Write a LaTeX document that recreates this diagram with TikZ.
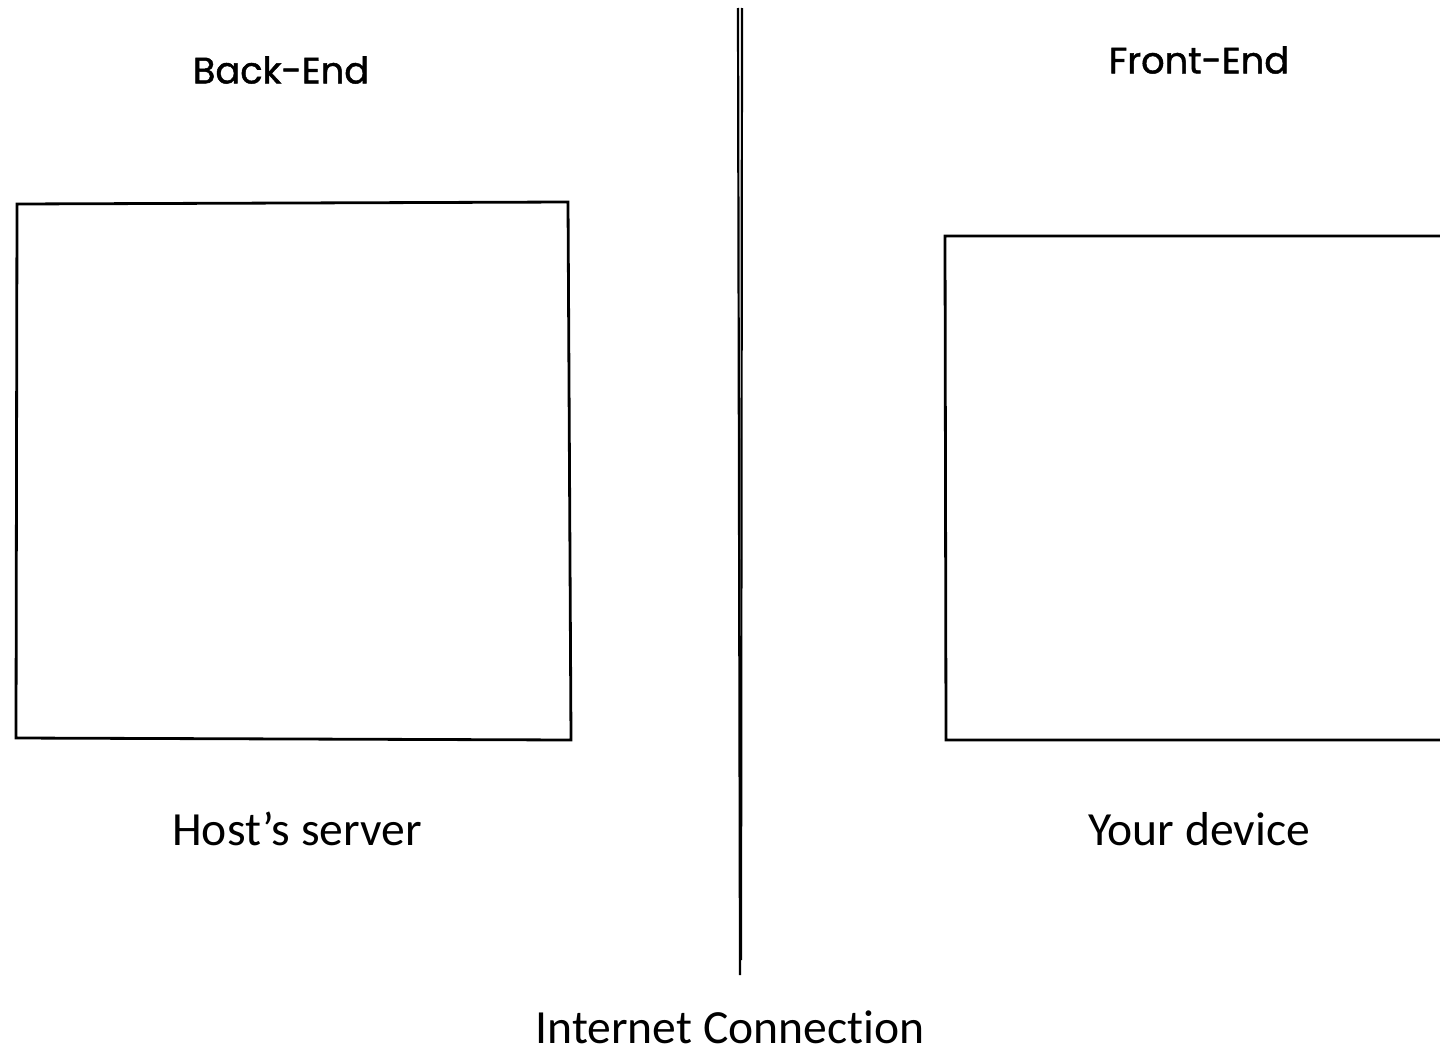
\documentclass[tikz,border=0pt]{standalone}
\usepackage{fontspec}
\setmainfont{Carlito}[Ligatures=NoCommon]
\newfontfamily\handfont{Poppins}[FakeBold=1.2]
\begin{document}
\begin{tikzpicture}[x=0.5pt,y=-0.5pt,
  sketch/.style={draw=black,line width=1.4pt,line join=miter},
  heading/.style={font=\handfont\fontsize{18.4}{22}\selectfont,inner sep=0pt},
  caption/.style={font=\fontsize{23.8}{28}\selectfont,inner sep=0pt,anchor=base}]
  % page frame
  \useasboundingbox[fill=white] (0,0) rectangle (1440,1049);
  \begin{scope}
    \clip (0,0) rectangle (1440,1049);
    % back-end box
    \coordinate (b1) at (17,204);
    \coordinate (b2) at (568,202);
    \coordinate (b3) at (571,740);
    \coordinate (b4) at (16,738);
    \draw[sketch] (b1) -- (b2) -- (b3) -- (b4) -- cycle;
    % front-end box, running past the right edge
    \coordinate (f1) at (945,236);
    \coordinate (f2) at (1460,236);
    \coordinate (f3) at (1460,740);
    \coordinate (f4) at (946,740);
    \draw[sketch] (f2) -- (f1) -- (f4) -- (f3);
    % divider, two strokes
    \coordinate (d1) at (738,8);
    \coordinate (d2) at (740,975);
    \coordinate (d3) at (742,8);
    \coordinate (d4) at (741,960);
    \draw[black,line width=1.1pt] (d1) -- (d2);
    \draw[black,line width=1.1pt] (d3) -- (d4);
  \end{scope}
  \node[heading] (back) at (281,70) {Back-End};
  \node[heading] (front) at (1199,60) {Front-End};
  \node[caption] (host) at (297,845) {Host’s server};
  \node[caption] (dev) at (1199,845) {Your device};
  \node[caption,text depth=0pt] (net) at (730,1043) {Internet Connection};
\end{tikzpicture}
\end{document}
